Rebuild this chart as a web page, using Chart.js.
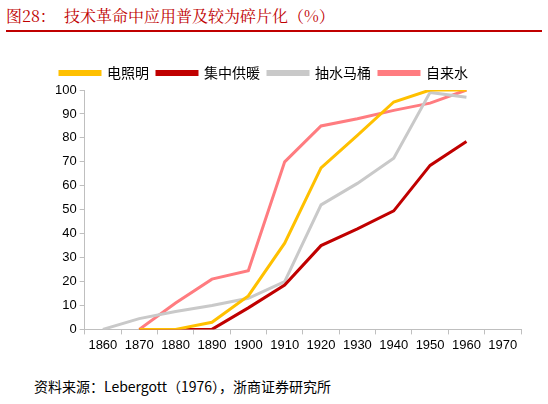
<!DOCTYPE html>
<html><head><meta charset="utf-8">
<script src="https://cdn.jsdelivr.net/npm/chart.js@4"></script>
<style>
body{margin:0;background:#fff;font-family:"Noto Sans CJK SC",sans-serif;}
#title{position:absolute;left:6px;top:4px;width:536px;height:26px;color:#c00000;font-size:16px;border-bottom:2px solid #c00000;line-height:24px;font-family:"Noto Serif CJK SC","Noto Sans CJK SC",serif;}
#wrap{position:absolute;left:0;top:58px;width:535px;height:298px;}
#src{position:absolute;left:34px;top:376px;font-size:14px;color:#000;font-family:"Noto Sans CJK SC",serif;}
</style></head><body>
<div id="title">图28：&nbsp;&nbsp;技术革命中应用普及较为碎片化（%）</div>
<div id="wrap"><canvas id="c"></canvas></div>
<div id="src">资料来源：Lebergott（1976），浙商证券研究所</div>
<script>
const years = ['1860','1870','1880','1890','1900','1910','1920','1930','1940','1950','1960','1970'];
const lighting = [null,0,0,3,14,36,67.5,81,95,100,100,null];
const heating = [null,0,0,0,9,18.5,35,42,49.5,68.5,78.5,null];
const toilet = [0,4.5,7.5,10,13,20,52,61,71.5,99,97,null];
const water = [null,0,11,21,24.5,70,85,88,91.5,94.5,100,null];

function ds(label, data, color){
  return {label, data, borderColor: color, backgroundColor: color, borderWidth: 3, pointRadius: 0, tension: 0};
}
new Chart(document.getElementById('c'), {
  type: 'line',
  data: {
    labels: years,
    datasets: [
      ds('电照明', lighting, '#ffc000'),
      ds('集中供暖', heating, '#c00000'),
      ds('抽水马桶', toilet, '#c9c9c9'),
      ds('自来水', water, '#ff7c80')
    ]
  },
  options: {
    responsive: true, maintainAspectRatio: false, animation: false,
    layout: {padding: {left: 52, right: 14, top: 0, bottom: 0}},
    plugins: {
      legend: {position: 'top', align: 'start', labels: {boxWidth: 40, boxHeight: 3, color: '#000', font: {size: 14, family: 'Noto Sans CJK SC'}, padding: 8}},
      tooltip: {enabled: false}
    },
    scales: {
      x: {
        offset: true,
        grid: {display: true, offset: true, drawOnChartArea: false, color: '#bfbfbf', tickLength: 5},
        border: {color: '#bfbfbf'},
        ticks: {color: '#000', font: {size: 13, family: 'Liberation Sans'}, maxRotation: 0, autoSkip: false}
      },
      y: {
        min: 0, max: 100,
        ticks: {stepSize: 10, color: '#000', font: {size: 13, family: 'Liberation Sans'}},
        grid: {drawOnChartArea: false, color: '#bfbfbf', tickLength: 5},
        border: {color: '#bfbfbf'}
      }
    }
  }
});
</script>
</body></html>
